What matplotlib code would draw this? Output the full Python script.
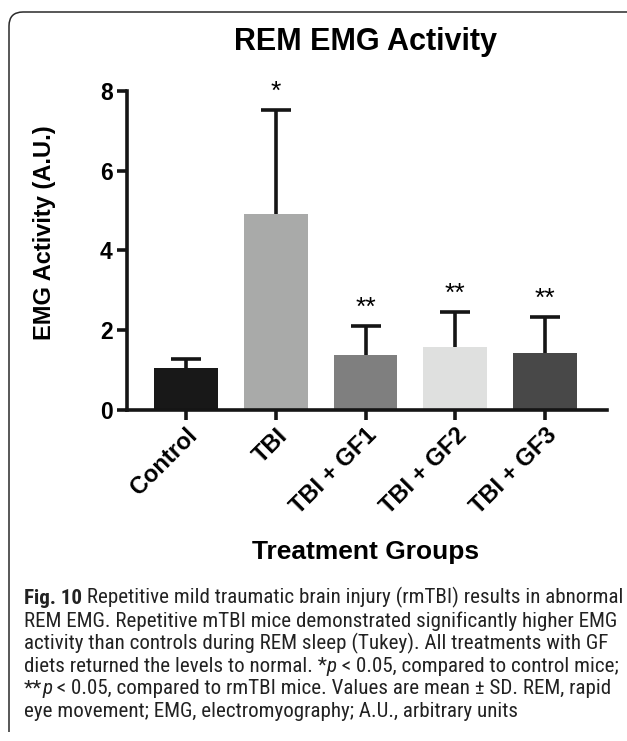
import numpy as np
import matplotlib.pyplot as plt
import matplotlib.transforms as mtransforms
from matplotlib.path import Path
from matplotlib.patches import PathPatch
from matplotlib import font_manager

groups = ["Control", "TBI", "TBI + GF1", "TBI + GF2", "TBI + GF3"]
means = [1.05, 4.92, 1.38, 1.57, 1.43]
sd = [0.24, 2.59, 0.73, 0.89, 0.89]
stars = ["", "*", "**", "**", "**"]
colors = ["#181818", "#a9aaa9", "#7f7f7f", "#dfe0df", "#484848"]
yticks = [0, 2, 4, 6, 8]

caption = [
    [("Fig. 10", "bold"), (" Repetitive mild traumatic brain injury (rmTBI) results in abnormal", "normal")],
    [("REM EMG. Repetitive mTBI mice demonstrated significantly higher EMG", "normal")],
    [("activity than controls during REM sleep (Tukey). All treatments with GF", "normal")],
    [("diets returned the levels to normal. *", "normal"), ("p", "italic"),
     (" < 0.05, compared to control mice;", "normal")],
    [("**", "normal"), ("p", "italic"),
     (" < 0.05, compared to rmTBI mice. Values are mean ± SD. REM, rapid", "normal")],
    [("eye movement; EMG, electromyography; A.U., arbitrary units", "normal")],
]

plt.rcParams['font.family'] = ['Liberation Sans', 'DejaVu Sans']
names = {f.name for f in font_manager.fontManager.ttflist}
cap_font = 'Lato'
for cand in ['Roboto Condensed', 'Open Sans Condensed', 'Liberation Sans Narrow', 'Lato']:
    if cand in names:
        cap_font = cand
        break

W, H = 627, 741
fig = plt.figure(figsize=(W / 100, H / 100), dpi=100)


def fx(px):
    return px / W


def fy(py):
    return 1 - py / H


def style_kw(style, size):
    kw = dict(fontsize=size, family=[cap_font, 'DejaVu Sans'], color='#222222')
    if style == 'bold':
        kw['fontweight'] = 'bold'
    if style == 'italic':
        kw['fontstyle'] = 'italic'
    return kw


ax = fig.add_axes([fx(126.7), fy(410), fx(607 - 126.7), (410 - 90.7) / H])

x = np.arange(len(groups))
bars = ax.bar(x, means, width=0.71, color=colors, zorder=2,
              yerr=[np.zeros(len(sd)), sd],
              error_kw=dict(ecolor='#151515', elinewidth=2.6, capsize=10.8,
                            capthick=2.6, zorder=3))
# only the upper cap is shown
for cl in bars.errorbar.lines[1]:
    if np.allclose(cl.get_ydata(), means):
        cl.set_visible(False)

for i, s in enumerate(stars):
    if s:
        ax.text(x[i], means[i] + sd[i] + 0.16, s, ha='center', va='bottom', fontsize=19)

ax.set_xlim(-0.66, 4.69)
ax.set_ylim(0, 8)
ax.set_yticks(yticks)
ax.set_xticks(x)
ax.set_xticklabels(groups, rotation=45, ha='right', rotation_mode='anchor',
                   fontweight='bold', fontsize=17)
ax.set_yticklabels([str(t) for t in yticks], fontweight='bold', fontsize=16.5)
offset = mtransforms.ScaledTranslation(-10 / 100, -11 / 100, fig.dpi_scale_trans)
for lab in ax.get_xticklabels():
    lab.set_transform(lab.get_transform() + offset)
    lab.set_verticalalignment('top')

for side in ['top', 'right']:
    ax.spines[side].set_visible(False)
for side in ['left', 'bottom']:
    ax.spines[side].set_linewidth(2.6)
    ax.spines[side].set_color('#151515')
ax.tick_params(width=2.6, length=7, color='#151515', pad=3)

fig.text(fx(365), fy(42), "REM EMG Activity", ha='center', va='center',
         fontsize=22, fontweight='bold')
fig.text(fx(366), fy(552), "Treatment Groups", ha='center', va='center',
         fontsize=19, fontweight='bold')
fig.text(fx(45), fy(233), "EMG Activity (A.U.)", ha='center', va='center',
         rotation=90, fontsize=17, fontweight='bold')

# rounded frame around the figure
verts = [(fx(9), fy(732)), (fx(9), fy(26)), (fx(9), fy(12)), (fx(23), fy(12)), (fx(640), fy(12))]
codes = [Path.MOVETO, Path.LINETO, Path.CURVE3, Path.CURVE3, Path.LINETO]
fig.add_artist(PathPatch(Path(verts, codes), transform=fig.transFigure,
                         facecolor='none', edgecolor='#2a2a2a', lw=1.1))

# caption size fitted so the first and fourth lines end near x = 620 px
renderer = fig.canvas.get_renderer()
scales = []
for idx in (0, 3):
    w = 0
    for txt, style in caption[idx]:
        probe = fig.text(0, 0, txt, **style_kw(style, 10))
        w += probe.get_window_extent(renderer).width
        probe.remove()
    scales.append(596 / w)
cap_fs = 10 * min(scales)

baseline = 604.5
for line in caption:
    prev = None
    for txt, style in line:
        kw = style_kw(style, cap_fs)
        if prev is None:
            prev = fig.text(fx(24), fy(baseline), txt, ha='left', va='baseline', **kw)
        else:
            prev = ax.annotate(txt, xy=(1, 0), xycoords=prev, ha='left', va='bottom', **kw)
    baseline += 22.5

fig.savefig("out.png", dpi=100)
